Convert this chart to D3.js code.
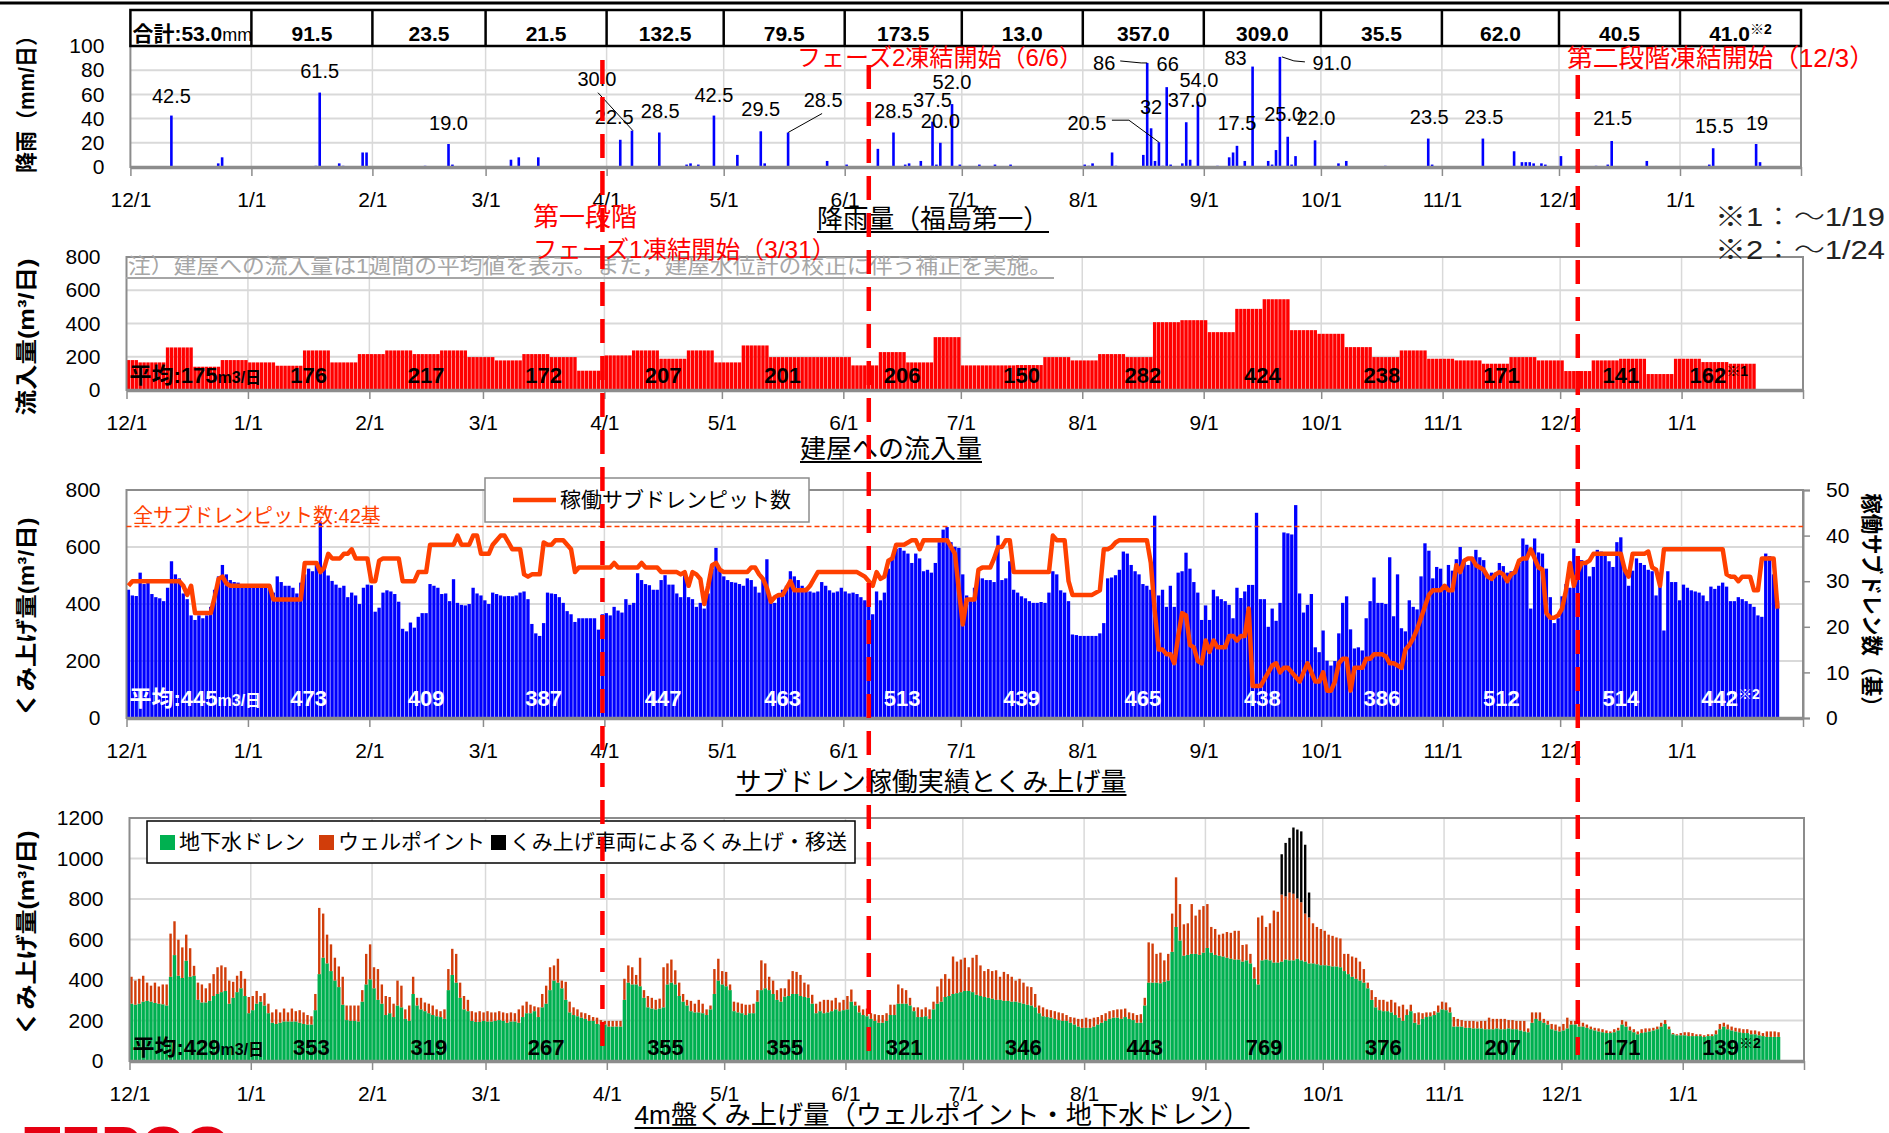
<!DOCTYPE html>
<html>
<head>
<meta charset="utf-8">
<script src="https://cdn.jsdelivr.net/npm/d3@7"></script>
<style>
  body { margin: 0; background: #fff; }
  text { font-family: "Liberation Sans", "Noto Sans CJK JP", sans-serif; }
</style>
</head>
<body>
<svg id="chart" width="1889" height="1133"></svg>
<script>
// ---------- data ----------
const rainMonthTotals = ["53.0", "91.5", "23.5", "21.5", "132.5", "79.5", "173.5", "13.0", "357.0", "309.0", "35.5", "62.0", "40.5", "41.0"];

// daily rainfall (mm/day), only the rainy days
const rainDays = [
  ["2015-12-11", 42.5], ["2015-12-23", 3], ["2015-12-24", 8],
  ["2016-01-17", 1], ["2016-01-18", 61.5], ["2016-01-23", 3], ["2016-01-24", 1], ["2016-01-29", 12], ["2016-01-30", 12],
  ["2016-02-14", 1], ["2016-02-20", 19], ["2016-02-21", 2],
  ["2016-03-07", 6], ["2016-03-09", 8], ["2016-03-14", 8],
  ["2016-04-04", 22.5], ["2016-04-07", 30], ["2016-04-14", 28.5], ["2016-04-21", 2], ["2016-04-22", 3], ["2016-04-24", 2], ["2016-04-28", 42.5],
  ["2016-05-04", 10], ["2016-05-10", 29.5], ["2016-05-11", 3], ["2016-05-17", 28.5], ["2016-05-27", 5],
  ["2016-06-01", 2], ["2016-06-09", 15], ["2016-06-13", 28.5], ["2016-06-16", 2], ["2016-06-17", 3], ["2016-06-20", 5],
  ["2016-06-23", 37.5], ["2016-06-24", 2], ["2016-06-25", 20], ["2016-06-28", 52], ["2016-06-30", 2],
  ["2016-07-05", 2], ["2016-07-09", 2], ["2016-07-13", 2],
  ["2016-08-01", 2], ["2016-08-02", 1], ["2016-08-03", 3], ["2016-08-08", 12], ["2016-08-09", 1], ["2016-08-16", 10],
  ["2016-08-17", 86], ["2016-08-18", 32], ["2016-08-19", 5], ["2016-08-20", 20.5], ["2016-08-21", 1], ["2016-08-22", 66],
  ["2016-08-23", 2], ["2016-08-26", 3], ["2016-08-27", 37], ["2016-08-28", 6], ["2016-08-30", 54],
  ["2016-09-04", 1], ["2016-09-07", 8], ["2016-09-08", 12], ["2016-09-09", 17.5], ["2016-09-11", 5], ["2016-09-13", 83],
  ["2016-09-17", 5], ["2016-09-18", 2], ["2016-09-19", 14], ["2016-09-20", 91], ["2016-09-22", 25], ["2016-09-23", 2],
  ["2016-09-24", 9], ["2016-09-29", 22],
  ["2016-10-05", 3], ["2016-10-07", 5], ["2016-10-17", 1], ["2016-10-28", 23.5], ["2016-10-29", 2],
  ["2016-11-11", 23.5], ["2016-11-19", 13], ["2016-11-21", 4], ["2016-11-22", 4], ["2016-11-23", 4], ["2016-11-24", 3],
  ["2016-11-26", 3], ["2016-11-27", 2],
  ["2016-12-01", 9], ["2016-12-10", 1], ["2016-12-13", 2], ["2016-12-14", 21.5], ["2016-12-23", 5],
  ["2017-01-08", 2], ["2017-01-09", 15.5], ["2017-01-20", 19], ["2017-01-21", 4]
];

// labelled rain days: date, text, label offset from bar top, leader line or not
const rainNotes = [
  ["2015-12-11", "42.5", 0, -20], ["2016-01-18", "61.5", 0, -22], ["2016-02-20", "19.0", 0, -21],
  ["2016-04-07", "30.0", -35, -52, true], ["2016-04-04", "22.5", -6, -23], ["2016-04-14", "28.5", 1, -22],
  ["2016-04-28", "42.5", 0, -21], ["2016-05-10", "29.5", 0, -22], ["2016-05-17", "28.5", 35, -33, true],
  ["2016-06-13", "28.5", 0, -22], ["2016-06-23", "37.5", 0, -22], ["2016-06-25", "20.0", 0, -22],
  ["2016-06-28", "52.0", 0, -22], ["2016-08-20", "20.5", -72, -19, true], ["2016-08-17", "86", -43, 0, true],
  ["2016-08-18", "32", 0, -21], ["2016-08-22", "66", 1, -23], ["2016-08-27", "37.0", 1, -22],
  ["2016-08-30", "54.0", 1, -22], ["2016-09-09", "17.5", 0, -23], ["2016-09-13", "83", -17, -9],
  ["2016-09-20", "91.0", 52, 6, true], ["2016-09-22", "25.0", -4, -23], ["2016-09-29", "22.0", 1, -22],
  ["2016-10-28", "23.5", 1, -22], ["2016-11-11", "23.5", 1, -22], ["2016-12-14", "21.5", 1, -23],
  ["2017-01-09", "15.5", 1, -22], ["2017-01-20", "19", 1, -21]
];

// building inflow, weekly means (m3/day), weeks starting 2015-11-27
const inflowWeekStart = "2015-11-27";
const inflowEnd = "2017-01-20";
const inflowWeekly = [180, 166, 256, 140, 180, 166, 146, 238, 166, 216, 238, 216, 238, 198, 178, 216, 198, 116, 208, 238,
  188, 238, 166, 268, 198, 198, 198, 148, 228, 166, 318, 148, 148, 150, 198, 178, 216, 198, 408, 420,
  348, 488, 546, 360, 338, 258, 198, 238, 188, 178, 158, 198, 178, 114, 178, 188, 96, 188, 168, 158];
const inflowAvg = [175, 176, 217, 172, 207, 201, 206, 150, 282, 424, 238, 171, 141, 162];

// sub-drain pumped volume (m3/day) from 2015-12-01
const subdrainPumped = [
  450, 430, 428, 510, 470, 475, 435, 424, 420, 410, 457, 550, 504, 490, 437, 417, 360, 344, 360, 350,
  360, 390, 450, 497, 537, 504, 484, 477, 475, 464, 464, 464, 464, 464, 464, 464, 457, 440, 497, 477,
  464, 464, 457, 437, 475, 504, 524, 515, 544, 690, 530, 500, 481, 468, 457, 464, 424, 440, 430, 400,
  457, 468, 466, 373, 387, 440, 448, 444, 435, 408, 313, 304, 335, 317, 355, 368, 368, 470, 464, 457,
  435, 437, 410, 487, 404, 397, 395, 400, 457, 437, 430, 413, 400, 440, 435, 430, 427, 428, 427, 430,
  440, 444, 417, 330, 297, 288, 333, 440, 437, 435, 424, 404, 375, 364, 337, 350, 350, 350, 350, 350,
  310, 364, 368, 360, 390, 377, 370, 417, 397, 404, 508, 484, 470, 466, 450, 450, 484, 501, 468, 468,
  437, 424, 501, 424, 417, 390, 404, 384, 437, 524, 597, 517, 497, 484, 477, 475, 470, 464, 490, 484,
  461, 440, 484, 557, 410, 404, 424, 450, 464, 515, 497, 484, 464, 457, 444, 440, 444, 477, 464, 448,
  440, 444, 457, 444, 437, 440, 435, 424, 413, 397, 364, 444, 413, 440, 524, 564, 593, 597, 587, 577,
  544, 577, 560, 515, 520, 510, 544, 617, 661, 670, 617, 601, 597, 504, 430, 410, 457, 504, 490, 484,
  484, 477, 640, 484, 490, 550, 450, 440, 427, 420, 410, 404, 404, 407, 404, 440, 515, 504, 448, 440,
  410, 293, 291, 288, 288, 288, 288, 288, 297, 333, 490, 493, 501, 520, 584, 577, 537, 515, 504, 470,
  464, 450, 710, 430, 450, 390, 464, 390, 510, 515, 580, 524, 477, 440, 344, 395, 344, 450, 427, 417,
  410, 397, 350, 457, 421, 444, 467, 467, 720, 417, 417, 320, 384, 341, 404, 651, 648, 644, 747, 437,
  370, 397, 435, 248, 231, 307, 201, 184, 200, 297, 404, 427, 311, 244, 248, 237, 350, 410, 493, 404,
  404, 400, 564, 357, 504, 315, 304, 413, 390, 381, 497, 613, 587, 490, 530, 524, 470, 537, 517, 557,
  600, 550, 537, 557, 590, 564, 554, 504, 510, 510, 544, 533, 510, 515, 520, 544, 630, 608, 384, 630,
  581, 577, 524, 424, 333, 350, 427, 470, 457, 595, 537, 554, 541, 497, 530, 590, 584, 577, 550, 530,
  617, 634, 520, 464, 517, 560, 544, 537, 520, 515, 430, 464, 307, 515, 477, 477, 413, 468, 457, 448,
  444, 440, 430, 410, 461, 453, 464, 475, 461, 410, 410, 424, 417, 410, 400, 390, 360, 355, 577, 568,
  504, 410
];

// number of sub-drain pits in operation, from 2015-12-01
const subdrainPits = [
  29, 30, 30, 30, 30, 30, 30, 30, 30, 30, 30, 30, 30, 30, 29, 27, 29, 23, 23, 23,
  23, 23, 26.5, 30.5, 31, 29.5, 29, 29, 29, 29, 29, 29, 29, 29, 29, 29, 29, 26, 26, 26,
  26, 26, 26, 26, 26, 34, 34, 34, 34, 32, 33, 36, 35, 35, 35, 36, 36, 37, 35, 35,
  35, 35, 30, 30, 34.5, 35, 35, 35, 35, 35, 30, 30, 30, 30, 32, 32, 32, 38, 38, 38,
  38, 38, 38, 38, 40, 38, 38, 38, 40, 40, 36, 36, 36, 38, 39, 40, 40, 38.5, 37, 37,
  37, 31.5, 31, 31.5, 31.5, 31.5, 38.5, 38, 38, 39, 39, 39, 38, 37, 32, 33, 33, 33, 33, 33,
  33, 33, 33, 33, 34, 33, 33, 33, 33, 33, 33, 34, 33, 33, 33, 33, 32, 32, 32, 32,
  32, 31.5, 32, 29, 32, 31.5, 30.5, 25, 29, 33.5, 34, 32.5, 32, 32, 32, 32, 32, 32, 32, 33,
  33, 31.5, 30.5, 28.5, 25.5, 26.5, 27, 27, 28.5, 30, 28, 28, 28, 28, 29, 30.5, 32, 32, 32, 32,
  32, 32, 32, 32, 32, 32, 32, 31.5, 31, 30, 29, 32, 30.5, 31, 34.5, 35, 38, 38, 38, 38.5,
  39, 39, 37, 39, 39, 39, 39, 39, 39, 39, 37.5, 36, 28, 20.5, 26, 26, 26, 32.5, 33, 33,
  33, 35, 37.5, 37.5, 39, 39, 32, 32, 32, 32, 32, 32, 32, 32, 32, 32, 40, 39, 39, 39,
  30, 27, 27, 27, 27, 27, 27, 27.5, 28, 37, 37, 37.5, 38.5, 39, 39, 39, 39, 39, 39, 39,
  39, 34, 23.5, 15, 15, 14, 14, 12, 18, 23, 22.5, 16, 15.5, 12.5, 12, 17, 14.5, 17, 15.5, 15.5,
  15.5, 18, 18, 17, 18, 18, 24, 7, 7, 7, 8.5, 10, 11.5, 12, 10, 11, 11, 10, 9, 8,
  10, 12, 10, 8, 8, 10, 6, 6, 8, 12, 13, 13, 6, 11, 11, 11, 13, 13, 14, 14,
  14, 13.5, 12, 12, 11.5, 11, 15, 16, 17.5, 19.5, 22, 24.5, 27, 28, 28, 28, 29, 28, 28, 33.5,
  32, 34.5, 35, 35, 33.5, 33, 32.5, 31, 30.5, 31.5, 32, 31.5, 30, 31.5, 32, 34.5, 35, 35, 37, 35,
  33, 32.5, 23, 22, 22, 22.5, 24, 28, 34, 29, 32, 34, 34, 34.5, 36, 36, 36, 36, 36, 36,
  36, 36, 32.5, 31, 36, 36, 36, 36, 36.5, 33, 32.5, 29, 37, 37, 37, 37, 37, 37, 37, 37,
  37, 37, 37, 37, 37, 37, 37, 37, 31.5, 31, 31, 30, 31, 31, 31, 28, 28, 35, 35, 35,
  35, 24
];
const subdrainAvg = [445, 473, 409, 387, 447, 463, 513, 439, 465, 438, 386, 512, 514, 442];
const subdrainPitTotal = 42;

// 4m ground pumping (m3/day) from 2015-12-01
const groundDrain = [
  283, 278, 283, 293, 297, 293, 287, 283, 280, 274, 416, 523, 421, 410, 495, 416, 421, 302, 289, 289,
  297, 321, 331, 340, 346, 283, 312, 340, 359, 321, 236, 251, 283, 293, 274, 236, 189, 183, 189, 195,
  195, 195, 195, 189, 183, 180, 180, 251, 429, 510, 482, 444, 397, 365, 278, 202, 198, 198, 195, 293,
  378, 403, 359, 302, 283, 227, 236, 217, 274, 265, 208, 198, 331, 274, 255, 246, 236, 227, 221, 217,
  208, 350, 425, 387, 312, 255, 246, 198, 193, 193, 198, 195, 195, 198, 202, 198, 189, 195, 195, 189,
  217, 236, 236, 246, 217, 265, 283, 350, 397, 387, 359, 302, 240, 227, 221, 214, 208, 198, 198, 183,
  180, 180, 170, 170, 170, 170, 302, 387, 378, 378, 369, 312, 265, 259, 255, 259, 265, 378, 387, 378,
  321, 293, 274, 246, 240, 240, 236, 227, 255, 331, 397, 378, 369, 350, 246, 240, 236, 227, 236, 236,
  293, 350, 359, 350, 331, 302, 293, 318, 321, 331, 331, 321, 316, 312, 283, 236, 246, 236, 240, 246,
  255, 246, 251, 255, 293, 274, 240, 227, 221, 208, 198, 189, 189, 198, 227, 227, 283, 283, 283, 274,
  246, 217, 217, 221, 208, 255, 283, 293, 316, 321, 331, 335, 340, 346, 346, 340, 327, 321, 316, 312,
  308, 302, 302, 297, 297, 293, 293, 289, 283, 278, 274, 265, 236, 221, 217, 214, 208, 202, 198, 198,
  189, 180, 170, 164, 164, 164, 170, 180, 189, 198, 208, 214, 214, 208, 217, 208, 202, 189, 189, 274,
  387, 387, 387, 384, 391, 397, 539, 662, 595, 520, 524, 529, 529, 524, 535, 558, 535, 524, 520, 516,
  510, 505, 501, 501, 491, 497, 482, 406, 378, 497, 501, 497, 486, 486, 491, 501, 497, 497, 505, 497,
  491, 482, 482, 478, 473, 473, 471, 467, 467, 463, 444, 429, 416, 406, 397, 387, 359, 302, 265, 251,
  246, 246, 240, 227, 214, 198, 227, 246, 189, 180, 208, 217, 221, 227, 240, 255, 251, 240, 170, 170,
  170, 164, 164, 161, 161, 161, 157, 157, 157, 161, 157, 157, 161, 157, 157, 151, 146, 142, 189, 208,
  198, 189, 180, 157, 151, 146, 151, 161, 180, 180, 170, 170, 164, 157, 151, 146, 142, 138, 138, 142,
  151, 180, 170, 151, 142, 132, 138, 142, 146, 151, 157, 170, 183, 157, 132, 127, 127, 127, 123, 123,
  123, 123, 119, 123, 123, 132, 157, 170, 157, 151, 146, 142, 138, 138, 132, 132, 127, 123, 119, 119,
  119, 119
];
const wellPoint = [
  133, 119, 123, 128, 90, 79, 100, 85, 98, 104, 213, 167, 178, 151, 129, 141, 49, 85, 89, 70,
  87, 108, 132, 132, 117, 114, 79, 81, 85, 85, 80, 70, 63, 28, 61, 47, 51, 72, 51, 64,
  45, 64, 51, 62, 57, 47, 41, 80, 327, 218, 142, 132, 113, 102, 138, 72, 76, 76, 79, 57,
  151, 173, 104, 152, 95, 94, 80, 66, 123, 107, 47, 76, 85, 38, 57, 43, 47, 47, 34, 29,
  47, 104, 129, 142, 75, 66, 56, 48, 47, 53, 42, 51, 45, 42, 44, 42, 47, 45, 41, 66,
  57, 57, 42, 24, 48, 66, 89, 113, 75, 118, 38, 89, 53, 38, 34, 26, 28, 29, 19, 31,
  22, 18, 28, 28, 28, 28, 104, 85, 85, 47, 141, 38, 56, 53, 47, 49, 198, 104, 114, 70,
  66, 38, 28, 51, 43, 62, 47, 28, 19, 123, 108, 66, 71, 28, 47, 49, 47, 51, 42, 47,
  57, 147, 123, 66, 66, 48, 66, 41, 82, 113, 109, 104, 71, 66, 44, 47, 47, 66, 62, 53,
  57, 43, 51, 66, 60, 19, 34, 28, 38, 28, 33, 38, 38, 38, 51, 51, 95, 76, 67, 38,
  19, 48, 38, 44, 47, 38, 85, 113, 113, 85, 185, 156, 161, 164, 117, 170, 197, 151, 128, 142,
  136, 146, 114, 143, 132, 123, 104, 117, 104, 90, 91, 66, 38, 44, 38, 37, 38, 38, 38, 29,
  28, 34, 38, 44, 50, 44, 44, 37, 38, 38, 38, 37, 41, 47, 42, 32, 34, 38, 42, 38,
  199, 193, 142, 151, 106, 132, 189, 245, 180, 155, 156, 246, 189, 223, 230, 217, 127, 128, 104, 113,
  127, 128, 142, 142, 82, 79, 47, 57, 331, 221, 161, 183, 257, 251, 331, 312, 335, 329, 298, 287,
  237, 227, 198, 184, 179, 170, 153, 151, 143, 142, 85, 100, 100, 104, 94, 67, 28, 48, 51, 51,
  56, 47, 62, 62, 56, 80, 28, 32, 47, 60, 28, 23, 19, 19, 34, 38, 38, 25, 47, 38,
  32, 34, 34, 37, 34, 37, 41, 57, 51, 47, 51, 51, 41, 45, 41, 47, 52, 19, 51, 32,
  42, 19, 18, 26, 29, 24, 32, 53, 18, 18, 28, 19, 16, 13, 13, 15, 15, 13, 8, 15,
  13, 22, 25, 19, 15, 14, 19, 19, 15, 13, 13, 19, 19, 13, 6, 5, 11, 15, 19, 15,
  9, 9, 8, 9, 9, 19, 26, 19, 23, 19, 18, 19, 19, 19, 19, 19, 19, 15, 27, 27,
  27, 23
];
// pumping by tank trucks (m3/day)
const truckDays = [
  ["2016-09-20", 199], ["2016-09-21", 264], ["2016-09-22", 270], ["2016-09-23", 327],
  ["2016-09-24", 340], ["2016-09-25", 350], ["2016-09-26", 340], ["2016-09-27", 123]
];
const groundAvg = [429, 353, 319, 267, 355, 355, 321, 346, 443, 769, 376, 207, 171, 139];

// freezing steps (dates where the dashed lines are drawn)
const freezeLines = ["2016-03-31", "2016-06-07", "2016-12-05"];

// ---------- checks ----------
[["subdrainPumped", subdrainPumped], ["subdrainPits", subdrainPits], ["groundDrain", groundDrain], ["wellPoint", wellPoint]]
  .forEach(([n, a]) => { if (a.length !== 422) throw new Error(n + " length " + a.length); });

// ---------- setup ----------
const svg = d3.select("#chart");
const parse = d3.timeParse("%Y-%m-%d");
const start = new Date(2015, 11, 1);
const end = new Date(2017, 1, 1);
const day = (i) => d3.timeDay.offset(start, i);
const monthStarts = d3.timeMonth.range(start, d3.timeDay.offset(end, 1));
const fmt = d3.timeFormat("%-m/%-d");
const JP = "'Noto Sans CJK JP', sans-serif";
const GRID = "#d9d9d9";
const FRAME = "#8c8c8c";

svg.append("rect").attr("width", 1889).attr("height", 1133).attr("fill", "#fff");
svg.append("line").attr("x1", 0).attr("x2", 1889).attr("y1", 3).attr("y2", 3)
  .attr("stroke", "#000").attr("stroke-width", 3);

const makePanel = ({ x0, x1, top, bottom, max, step }) => {
  const x = d3.scaleTime().domain([start, end]).range([x0, x1]);
  const y = d3.scaleLinear().domain([0, max]).range([bottom, top]);
  const g = svg.append("g");
  const grid = g.append("g");
  grid.selectAll(".h").data(d3.range(step, max, step)).join("line")
    .attr("x1", x0).attr("x2", x1).attr("y1", y).attr("y2", y)
    .attr("stroke", GRID).attr("stroke-width", 2);
  grid.selectAll(".v").data(monthStarts.slice(1, -1)).join("line")
    .attr("x1", x).attr("x2", x).attr("y1", top).attr("y2", bottom)
    .attr("stroke", GRID).attr("stroke-width", 1.5);
  const marks = g.append("g");
  const over = g.append("g");
  // frame
  over.append("rect").attr("x", x0).attr("y", top).attr("width", x1 - x0).attr("height", bottom - top)
    .attr("fill", "none").attr("stroke", FRAME).attr("stroke-width", 2);
  // x axis
  const xAxis = over.append("g").attr("transform", `translate(0,${bottom})`)
    .call(d3.axisBottom(x).tickValues(monthStarts).tickSize(9).tickSizeOuter(0)
      .tickFormat((d, i) => (i < monthStarts.length - 1 ? fmt(d) : "")));
  xAxis.select(".domain").attr("stroke", FRAME).attr("stroke-width", 3.5);
  xAxis.selectAll(".tick line").attr("stroke", FRAME).attr("stroke-width", 1.5);
  xAxis.selectAll(".tick text").attr("y", 33).attr("dy", "0.35em")
    .attr("font-size", 21).attr("fill", "#000");
  // y axis
  const yAxis = over.append("g").attr("transform", `translate(${x0},0)`)
    .call(d3.axisLeft(y).tickValues(d3.range(0, max + 1, step)).tickFormat(d3.format("d"))
      .tickSize(0).tickPadding(26));
  yAxis.select(".domain").remove();
  yAxis.selectAll(".tick text").attr("font-size", 21).attr("fill", "#000");
  const stepW = x(day(1)) - x(day(0));
  return { x, y, g, marks, over, stepW, x0, x1, top, bottom };
};

const yTitle = (text, x, cy, len, rot = -90) => {
  svg.append("text").attr("transform", `translate(${x},${cy}) rotate(${rot})`)
    .attr("text-anchor", "middle").attr("dominant-baseline", "central")
    .attr("font-family", JP).attr("font-weight", "bold").attr("font-size", 22)
    .attr("textLength", len).attr("lengthAdjust", "spacingAndGlyphs").text(text);
};

const underlinedTitle = (text, cx, cy, len) => {
  svg.append("text").attr("x", cx).attr("y", cy).attr("dy", "0.35em")
    .attr("text-anchor", "middle").attr("font-family", JP).attr("font-size", 26)
    .attr("textLength", len).attr("lengthAdjust", "spacingAndGlyphs").text(text);
  svg.append("line").attr("x1", cx - len / 2).attr("x2", cx + len / 2)
    .attr("y1", cy + 13).attr("y2", cy + 13).attr("stroke", "#000").attr("stroke-width", 2);
};

const monthAvgLabels = (p, vals, cy, color, mark, lastDay) => {
  const layer = p.over.append("g").attr("font-weight", "bold").attr("fill", color);
  vals.forEach((v, i) => {
    const m0 = monthStarts[i];
    if (i === 0) {
      const t = layer.append("text").attr("x", p.x0 + 3).attr("y", cy).attr("dy", "0.35em").attr("font-size", 22);
      t.append("tspan").text("平均:" + v);
      t.append("tspan").attr("font-size", 16).text("m3/日");
      return;
    }
    const last = i === vals.length - 1;
    const cx = last
      ? (p.x(m0) + p.x(lastDay)) / 2
      : (p.x(m0) + p.x(monthStarts[i + 1])) / 2;
    const t = layer.append("text").attr("x", cx).attr("y", cy).attr("dy", "0.35em")
      .attr("text-anchor", "middle").attr("font-size", 22);
    t.append("tspan").text(v);
    if (last) t.append("tspan").attr("font-size", 14).attr("dy", "-0.5em").text(mark);
  });
};

// ---------- panel 1: rainfall ----------
const p1 = makePanel({ x0: 130.4, x1: 1801, top: 46, bottom: 167, max: 100, step: 20 });
p1.marks.selectAll("rect").data(rainDays).join("rect")
  .attr("x", (d) => p1.x(parse(d[0])) + p1.stepW / 2 - 1.3)
  .attr("y", (d) => p1.y(d[1]))
  .attr("width", 2.6)
  .attr("height", (d) => p1.y(0) - p1.y(d[1]))
  .attr("fill", "#0000ff");

const rainValue = new Map(rainDays.map((d) => [d[0], d[1]]));
rainNotes.forEach(([date, txt, dx, dy, leader]) => {
  const bx = p1.x(parse(date)) + p1.stepW / 2;
  const by = p1.y(rainValue.get(date));
  const lx = bx + dx, ly = by + dy;
  if (leader) {
    let pts;
    if (dx < 0 && dy < -30) pts = [[lx + 1, ly + 14], [bx + 1, by]];
    else if (dx > 0 && dy < 0) pts = [[lx - 1, ly + 14], [bx, by]];
    else if (dx > 0) pts = [[bx + 2, by], [bx + 14, by + 4], [lx - 27, ly - 1]];
    else if (dy === 0) pts = [[lx + 16, ly - 2], [lx + 37, ly], [bx, by]];
    else pts = [[lx + 25, ly - 3], [lx + 42, ly - 3], [bx, by]];
    p1.over.append("path").attr("d", d3.line()(pts)).attr("fill", "none")
      .attr("stroke", "#000").attr("stroke-width", 1);
  }
  p1.over.append("text").attr("x", lx).attr("y", ly).attr("dy", "0.35em")
    .attr("text-anchor", "middle").attr("font-size", 20).text(txt);
});

// monthly rainfall totals table
const table = svg.append("g");
const cells = monthStarts.slice(0, -1).map((m, i) => ({ a: p1.x(m), b: p1.x(monthStarts[i + 1]), v: rainMonthTotals[i], i }));
table.append("rect").attr("x", p1.x0).attr("y", 10).attr("width", p1.x1 - p1.x0).attr("height", 36)
  .attr("fill", "#fff").attr("stroke", "#000").attr("stroke-width", 2.5);
table.selectAll("line").data(cells.slice(1)).join("line")
  .attr("x1", (d) => d.a).attr("x2", (d) => d.a).attr("y1", 10).attr("y2", 46)
  .attr("stroke", "#000").attr("stroke-width", 2.5);
cells.forEach((c) => {
  const t = table.append("text").attr("y", 34).attr("dy", "0.35em")
    .attr("font-weight", "bold").attr("font-size", 21);
  if (c.i === 0) {
    t.attr("x", c.a + 2);
    t.append("tspan").text("合計:" + c.v);
    t.append("tspan").attr("font-weight", "normal").attr("font-size", 18).text("mm");
  } else if (c.i === cells.length - 1) {
    t.attr("x", (c.a + c.b) / 2).attr("text-anchor", "middle");
    t.append("tspan").text(c.v);
    t.append("tspan").attr("font-size", 14).attr("dy", "-0.5em").text("※2");
  } else {
    t.attr("x", (c.a + c.b) / 2).attr("text-anchor", "middle").text(c.v);
  }
});

// ---------- panel 2: inflow to buildings ----------
const p2 = makePanel({ x0: 126.5, x1: 1803, top: 257, bottom: 390, max: 800, step: 200 });
const wk0 = parse(inflowWeekStart);
const inflowDaily = d3.timeDay.range(start, parse(inflowEnd)).map((d) => ({
  d, v: inflowWeekly[Math.floor(d3.timeDay.count(wk0, d) / 7)]
}));
p2.marks.selectAll("rect").data(inflowDaily).join("rect")
  .attr("x", (d) => p2.x(d.d) + 0.2)
  .attr("y", (d) => p2.y(d.v))
  .attr("width", p2.stepW - 0.5)
  .attr("height", (d) => p2.y(0) - p2.y(d.v))
  .attr("fill", "#ff0000");
svg.append("text").attr("x", 128).attr("y", 266).attr("dy", "0.35em")
  .attr("font-family", JP).attr("font-size", 21).attr("fill", "#a6a6a6")
  .attr("textLength", 924).attr("lengthAdjust", "spacingAndGlyphs")
  .text("注）建屋への流入量は1週間の平均値を表示。また，建屋水位計の校正に伴う補正を実施。");
svg.append("line").attr("x1", 126).attr("x2", 1054).attr("y1", 278).attr("y2", 278)
  .attr("stroke", "#a6a6a6").attr("stroke-width", 2);
monthAvgLabels(p2, inflowAvg, 375, "#000", "※1", parse(inflowEnd));

// ---------- panel 3: sub-drain ----------
const p3 = makePanel({ x0: 126.5, x1: 1803, top: 490, bottom: 718, max: 800, step: 200 });
const yPits = d3.scaleLinear().domain([0, 50]).range([718, 490]);
p3.marks.selectAll("rect").data(subdrainPumped).join("rect")
  .attr("x", (d, i) => p3.x(day(i)) + 0.25)
  .attr("y", (d) => p3.y(d))
  .attr("width", p3.stepW - 0.6)
  .attr("height", (d) => p3.y(0) - p3.y(d))
  .attr("fill", "#0000ff");
const rAxis = p3.over.append("g").attr("transform", `translate(${p3.x1},0)`)
  .call(d3.axisRight(yPits).tickValues(d3.range(0, 51, 10)).tickSize(7).tickPadding(16));
rAxis.select(".domain").attr("stroke", FRAME).attr("stroke-width", 2);
rAxis.selectAll(".tick line").attr("stroke", FRAME).attr("stroke-width", 1.5);
rAxis.selectAll(".tick text").attr("font-size", 21).attr("fill", "#000");
p3.over.append("line").attr("x1", p3.x0).attr("x2", p3.x1)
  .attr("y1", yPits(subdrainPitTotal)).attr("y2", yPits(subdrainPitTotal))
  .attr("stroke", "#ff4000").attr("stroke-width", 1.5).attr("stroke-dasharray", "5,3");
p3.over.append("text").attr("x", 133).attr("y", yPits(subdrainPitTotal) - 10).attr("dy", "0.35em")
  .attr("font-family", JP).attr("font-size", 20).attr("fill", "#ff4000")
  .text(`全サブドレンピット数:${subdrainPitTotal}基`);
p3.over.append("path")
  .datum(subdrainPits)
  .attr("d", d3.line().x((d, i) => p3.x(day(i)) + p3.stepW / 2).y((d) => yPits(d)))
  .attr("fill", "none").attr("stroke", "#ff4000").attr("stroke-width", 4.5)
  .attr("stroke-linejoin", "round");
monthAvgLabels(p3, subdrainAvg, 698, "#fff", "※2", day(subdrainPumped.length));
// legend
const lg3 = p3.over.append("g");
lg3.append("rect").attr("x", 485).attr("y", 478).attr("width", 324).attr("height", 44)
  .attr("fill", "#fff").attr("stroke", "#8c8c8c").attr("stroke-width", 1.5);
lg3.append("line").attr("x1", 513).attr("x2", 556).attr("y1", 500).attr("y2", 500)
  .attr("stroke", "#ff4000").attr("stroke-width", 4.5);
lg3.append("text").attr("x", 560).attr("y", 500).attr("dy", "0.35em")
  .attr("font-family", JP).attr("font-size", 21).text("稼働サブドレンピット数");

// ---------- panel 4: 4m ground pumping ----------
const p4 = makePanel({ x0: 129.5, x1: 1804, top: 818, bottom: 1061, max: 1200, step: 200 });
const truck = new Map(truckDays.map((d) => [d3.timeDay.count(start, parse(d[0])), d[1]]));
const stack = groundDrain.map((g, i) => ({ i, g, w: wellPoint[i], t: truck.get(i) || 0 }));
const dayX4 = (d) => p4.x(day(d.i)) + p4.stepW / 2;
p4.marks.selectAll(".g").data(stack).join("rect")
  .attr("x", (d) => dayX4(d) - (p4.stepW - 0.5) / 2).attr("width", p4.stepW - 0.5)
  .attr("y", (d) => p4.y(d.g)).attr("height", (d) => p4.y(0) - p4.y(d.g))
  .attr("fill", "#00b050");
p4.marks.selectAll(".w").data(stack).join("rect")
  .attr("x", (d) => dayX4(d) - 1.2).attr("width", 2.4)
  .attr("y", (d) => p4.y(d.g + d.w)).attr("height", (d) => p4.y(d.g) - p4.y(d.g + d.w))
  .attr("fill", "#d13d0a");
p4.marks.selectAll(".t").data(stack.filter((d) => d.t > 0)).join("rect")
  .attr("x", (d) => dayX4(d) - 1.2).attr("width", 2.4)
  .attr("y", (d) => p4.y(d.g + d.w + d.t)).attr("height", (d) => p4.y(d.g + d.w) - p4.y(d.g + d.w + d.t))
  .attr("fill", "#000");
monthAvgLabels(p4, groundAvg, 1047, "#000", "※2", day(groundDrain.length));
const lg4 = p4.over.append("g");
lg4.append("rect").attr("x", 147).attr("y", 821).attr("width", 708).attr("height", 42)
  .attr("fill", "#fff").attr("stroke", "#000").attr("stroke-width", 1.5);
[["#00b050", "地下水ドレン", 160], ["#d13d0a", "ウェルポイント", 319], ["#000", "くみ上げ車両によるくみ上げ・移送", 491]]
  .forEach(([c, t, x]) => {
    lg4.append("rect").attr("x", x).attr("y", 835).attr("width", 15).attr("height", 15).attr("fill", c);
    lg4.append("text").attr("x", x + 19).attr("y", 842).attr("dy", "0.35em")
      .attr("font-family", JP).attr("font-size", 21).text(t);
  });

// ---------- titles and notes ----------
underlinedTitle("降雨量（福島第一）", 933, 219, 232);
underlinedTitle("建屋への流入量", 891, 449, 182);
underlinedTitle("サブドレン稼働実績とくみ上げ量", 931, 782, 391);
underlinedTitle("4m盤くみ上げ量（ウェルポイント・地下水ドレン）", 942, 1115, 615);

yTitle("降雨（mm/日）", 26, 99, 148);
yTitle("流入量(m³/日)", 26, 337, 157);
yTitle("くみ上げ量(m³/日)", 26, 617, 199);
yTitle("くみ上げ量(m³/日)", 26, 933, 205);
yTitle("稼働サブドレン数（基）", 1871, 605, 223, 90);

[["※1：～1/19", 217], ["※2：～1/24", 250]].forEach(([t, y]) => {
  svg.append("text").attr("x", 1715).attr("y", y).attr("dy", "0.35em")
    .attr("font-family", JP).attr("font-size", 26).attr("font-weight", 300).attr("fill", "#222")
    .attr("textLength", 170).attr("lengthAdjust", "spacingAndGlyphs").text(t);
});

// freezing lines
const lineX = (d) => p3.x(parse(d)) + p3.stepW / 2;
const lineTops = [60, 65, 75];
svg.append("g").selectAll("line").data(freezeLines).join("line")
  .attr("x1", lineX).attr("x2", lineX)
  .attr("y1", (d, i) => lineTops[i]).attr("y2", 1055)
  .attr("stroke", "#ff0000").attr("stroke-width", 4.5).attr("stroke-dasharray", "24,13");

const red = svg.append("g").attr("font-family", JP).attr("fill", "#ff0000");
red.append("text").attr("x", 533).attr("y", 217).attr("dy", "0.35em").attr("font-size", 26).text("第一段階");
red.append("text").attr("x", 533).attr("y", 250).attr("dy", "0.35em").attr("font-size", 24)
  .attr("textLength", 303).attr("lengthAdjust", "spacingAndGlyphs").text("フェーズ1凍結開始（3/31）");
red.append("text").attr("x", 797).attr("y", 58).attr("dy", "0.35em").attr("font-size", 24)
  .attr("textLength", 286).attr("lengthAdjust", "spacingAndGlyphs").text("フェーズ2凍結開始（6/6）");
red.append("text").attr("x", 1567).attr("y", 58).attr("dy", "0.35em").attr("font-size", 25)
  .attr("textLength", 308).attr("lengthAdjust", "spacingAndGlyphs").text("第二段階凍結開始（12/3）");

// logo remnant at bottom edge
svg.append("text").attr("x", 24).attr("y", 1168).attr("font-size", 60).attr("font-weight", "bold")
  .attr("fill", "#e60012").text("TEPCO");
</script>
</body>
</html>
